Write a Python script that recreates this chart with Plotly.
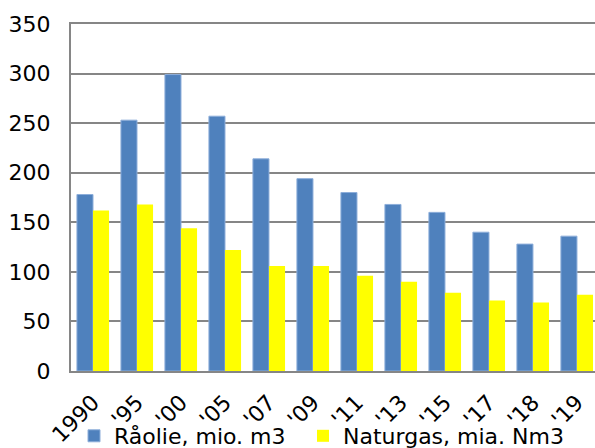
import plotly.graph_objects as go

years = ["1990", "'95", "'00", "'05", "'07", "'09", "'11", "'13", "'15", "'17", "'18", "'19"]
raaolie = [178, 253, 299, 257, 214, 194, 180, 168, 160, 140, 128, 136]
naturgas = [162, 168, 144, 122, 106, 106, 96, 90, 79, 71, 69, 77]
y_ticks = [0, 50, 100, 150, 200, 250, 300, 350]

FONT = "Verdana, DejaVu Sans, sans-serif"
idx = list(range(len(years)))

fig = go.Figure()
fig.add_trace(go.Bar(
    x=idx, y=raaolie, name="Råolie, mio. m3", legend="legend",
    marker=dict(color="#4F81BD", line=dict(color="#8DAEDA", width=1)),
))
fig.add_trace(go.Bar(
    x=idx, y=naturgas, name="Naturgas, mia. Nm3", legend="legend2",
    marker=dict(color="#FFFF00", line=dict(width=0)),
))

legend_common = dict(
    orientation="h", xref="container", yref="container",
    y=12 / 448, xanchor="left", yanchor="middle",
    font=dict(family=FONT, size=22), itemwidth=30,
    bgcolor="rgba(0,0,0,0)",
)

fig.update_layout(
    width=595, height=448,
    margin=dict(l=71, r=0, t=24, b=77, autoexpand=False),
    paper_bgcolor="white", plot_bgcolor="white",
    barmode="group", bargap=0.27, bargroupgap=0,
    font=dict(family=FONT, size=22, color="#000000"),
    showlegend=True,
    legend=dict(x=74 / 595, **legend_common),
    legend2=dict(x=303 / 595, **legend_common),
)
fig.update_xaxes(
    tickmode="array", tickvals=idx, ticktext=years, tickangle=-45,
    range=[-0.5, 11.41], showgrid=False, showline=True, mirror=True,
    linecolor="#868686", linewidth=2, ticks="", automargin=False,
    ticklabelstandoff=8, tickfont=dict(family=FONT, size=22),
)
fig.update_yaxes(
    range=[0, 350], tickvals=y_ticks, showgrid=True, gridcolor="#868686",
    gridwidth=2, showline=True, linecolor="#868686", linewidth=2,
    zeroline=False, ticks="", ticklabelstandoff=14, automargin=False,
    tickfont=dict(family=FONT, size=22),
)

fig.write_html("out.html")
